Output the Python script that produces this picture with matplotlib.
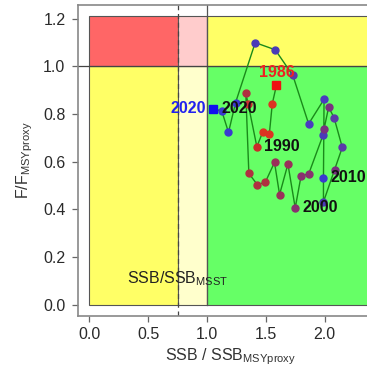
import matplotlib
matplotlib.use("Agg")
import matplotlib.pyplot as plt
from matplotlib.patches import Rectangle

plt.rcParams['font.family'] = ['Liberation Sans', 'DejaVu Sans']
plt.rcParams['mathtext.default'] = 'regular'

# --- data ---
ssb = [1.59, 1.555, 1.53, 1.475, 1.424, 1.35, 1.33, 1.356, 1.427, 1.495, 1.574,
       1.617, 1.688, 1.75, 1.80, 1.864, 1.986, 1.995, 2.034, 2.08, 2.15, 2.085,
       1.99, 1.99, 1.995, 1.864, 1.73, 1.58, 1.41, 1.243, 1.183, 1.126, 1.05]
f_ratio = [0.92, 0.843, 0.716, 0.726, 0.663, 0.843, 0.888, 0.551, 0.504, 0.513, 0.597,
           0.462, 0.59, 0.406, 0.541, 0.548, 0.711, 0.737, 0.829, 0.785, 0.66, 0.567,
           0.431, 0.532, 0.862, 0.759, 0.962, 1.07, 1.10, 0.848, 0.723, 0.813, 0.822]
labels = {4: "1990", 13: "2000", 23: "2010", 32: "2020"}
first_year = "1986"
last_year = "2020"
ssb_msst = 0.75
ssb_msy = 1.0
f_msy = 1.0
xmax_zone = 2.4
ymax_zone = 1.21
xticks = [0.0, 0.5, 1.0, 1.5, 2.0]
yticks = [0.0, 0.2, 0.4, 0.6, 0.8, 1.0, 1.2]

# --- styles ---
point_colors = ['#ee1111', '#dd3322', '#dd3322', '#dd3322', '#cc2a2a', '#cc3030', '#b03040',
                '#b03040', '#b03040', '#b03040', '#9a2f5a', '#9a2f5a', '#9a2f5a', '#8a3070',
                '#8a3070', '#8a3070', '#4a3ab8', '#7a3080', '#7a3080', '#5a3aa8', '#5a3aa8',
                '#7a3080', '#4a3ab8', '#3a3ad0', '#4a3ac0', '#4a3ac0', '#5a3aa8', '#4a3ab8',
                '#4a3ab8', '#3a3ad0', '#3a3ad0', '#3a3ad0', '#1111ee']

W, H = 367, 369
fig = plt.figure(figsize=(W / 100, H / 100), dpi=100)
ax = fig.add_axes([78 / W, 53 / H, 305 / W, 311 / H])
ax.set_xlim(-0.096, 2.496)
ax.set_ylim(-0.048, 1.258)

edge = '#555555'
zones = [
    (0, 0, ssb_msst, f_msy, '#ffff66'),
    (ssb_msst, 0, ssb_msy - ssb_msst, f_msy, '#ffffcc'),
    (ssb_msy, 0, xmax_zone - ssb_msy, f_msy, '#66ff66'),
    (0, f_msy, ssb_msst, ymax_zone - f_msy, '#ff6666'),
    (ssb_msst, f_msy, ssb_msy - ssb_msst, ymax_zone - f_msy, '#ffcccc'),
    (ssb_msy, f_msy, xmax_zone - ssb_msy, ymax_zone - f_msy, '#ffff66'),
]
for x0, y0, w, h, c in zones:
    ax.add_patch(Rectangle((x0, y0), w, h, facecolor=c, edgecolor=edge, lw=0.8, zorder=1))

ax.axvline(ssb_msst, color='#444444', lw=0.9, ls=(0, (4, 3)), zorder=2)
ax.axvline(ssb_msy, color='#555555', lw=0.9, ymin=0.048 / 1.306, zorder=2)
ax.axhline(f_msy, color='#444444', lw=0.9, zorder=2)

ax.plot(ssb, f_ratio, color='#1a8a1a', lw=1.0, zorder=3)
for i, (x, y) in enumerate(zip(ssb, f_ratio)):
    if i == 0 or i == len(ssb) - 1:
        ax.plot(x, y, marker='s', ms=5.5, color=point_colors[i], mec=point_colors[i], zorder=5)
    else:
        ax.plot(x, y, marker='o', ms=5, color=point_colors[i], mec=point_colors[i], zorder=4)

fs = 11.5
for i, t in labels.items():
    off = 6.5 if i == len(ssb) - 1 else 5
    ax.annotate(t, (ssb[i], f_ratio[i]), xytext=(off, 0), textcoords='offset points',
                ha='left', va='center', fontsize=fs, color='#111111', fontweight='bold', zorder=6)
ax.annotate(first_year, (ssb[0], f_ratio[0]), xytext=(0, 9), textcoords='offset points',
            ha='center', va='center', fontsize=fs, color='#ee2222', fontweight='bold', zorder=6)
ax.annotate(last_year, (ssb[-1], f_ratio[-1]), xytext=(-5, 0), textcoords='offset points',
            ha='right', va='center', fontsize=fs, color='#2222ee', fontweight='bold', zorder=6)

ax.text(ssb_msst, 0.09, r'SSB/SSB$_{MSST}$', ha='center', va='baseline',
        fontsize=fs, color='#222222', zorder=6)

ax.set_xticks(xticks)
ax.set_xticklabels([f"{v:.1f}" for v in xticks])
ax.set_yticks(yticks)
ax.set_yticklabels([f"{v:.1f}" for v in yticks])
ax.tick_params(axis='both', direction='out', length=4.5, width=0.9, color='#666666',
               labelsize=fs, labelcolor='#2a2a2a')
ax.tick_params(axis='x', pad=3.5)
ax.tick_params(axis='y', pad=4.5)
for s in ax.spines.values():
    s.set_color('#888888')
    s.set_linewidth(1.2)

ax.set_xlabel(r'SSB / SSB$_{MSYproxy}$', fontsize=fs, color='#333333', labelpad=3)
ax.set_ylabel(r'F/F$_{MSYproxy}$', fontsize=fs, color='#333333', labelpad=6)

fig.savefig('out.png', dpi=100)
